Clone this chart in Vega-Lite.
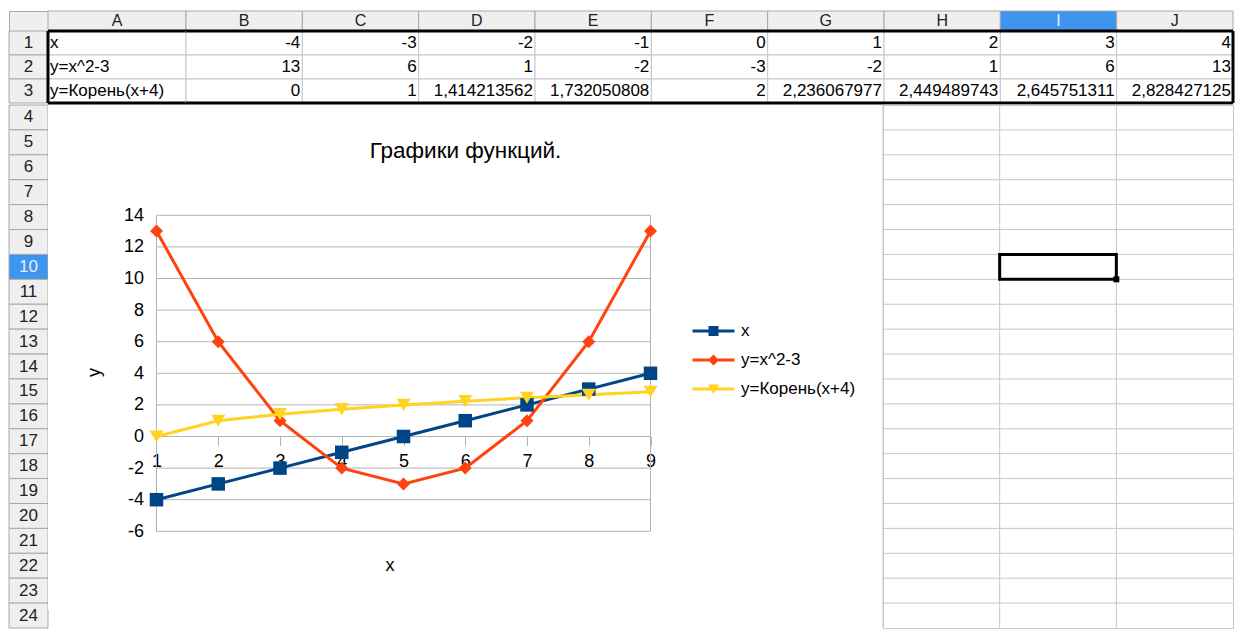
{
  "$schema": "https://vega.github.io/schema/vega-lite/v6.json",
  "padding": {"left": 8, "top": 10, "right": 0, "bottom": 0},
  "background": "white",
  "spacing": -3,
  "config": {
    "font": "Liberation Sans",
    "view": {"stroke": null},
    "text": {"font": "Liberation Sans"},
    "axis": {"labelFont": "Liberation Sans", "titleFont": "Liberation Sans"},
    "legend": {"labelFont": "Liberation Sans"},
    "title": {"font": "Liberation Sans"}
  },
  "vconcat": [
    {
      "columns": 3,
      "spacing": 0,
      "bounds": "flush",
      "concat": [
        {
          "width": 39, "height": 20,
          "view": {"fill": "#efefef", "stroke": "#a8a8a8"},
          "data": {"values": [{"k": ""}]},
          "mark": {"type": "text"},
          "encoding": {"text": {"field": "k"}}
        },
        {
          "width": 138, "height": 20,
          "data": {"values": [{"c": "A"}]},
          "encoding": {"x": {"field": "c", "type": "nominal", "axis": null, "scale": {"type": "band", "paddingInner": 0, "paddingOuter": 0}}},
          "layer": [
            {"mark": {"type": "rect", "fill": "#efefef", "stroke": "#a8a8a8"}},
            {"mark": {"type": "text", "fontSize": 16, "color": "#222"}, "encoding": {"text": {"field": "c"}}}
          ]
        },
        {
          "width": 1047, "height": 20,
          "data": {"values": [{"c": "B"}, {"c": "C"}, {"c": "D"}, {"c": "E"}, {"c": "F"}, {"c": "G"}, {"c": "H"}, {"c": "I"}, {"c": "J"}]},
          "encoding": {"x": {"field": "c", "type": "nominal", "axis": null, "scale": {"type": "band", "paddingInner": 0, "paddingOuter": 0}}},
          "layer": [
            {"mark": {"type": "rect", "stroke": "#a8a8a8"},
             "encoding": {"fill": {"condition": {"test": "datum.c === 'I'", "value": "#3d95f0"}, "value": "#efefef"}}},
            {"mark": {"type": "text", "fontSize": 16},
             "encoding": {"text": {"field": "c"}, "color": {"condition": {"test": "datum.c === 'I'", "value": "#e8f0fb"}, "value": "#222"}}}
          ]
        },
        {
          "width": 39, "height": 72,
          "data": {"values": [{"r": "1"}, {"r": "2"}, {"r": "3"}]},
          "encoding": {"y": {"field": "r", "type": "nominal", "axis": null, "scale": {"type": "band", "paddingInner": 0, "paddingOuter": 0}}},
          "layer": [
            {"mark": {"type": "rect", "fill": "#efefef", "stroke": "#a8a8a8"}},
            {"mark": {"type": "text", "fontSize": 17, "color": "#222"}, "encoding": {"text": {"field": "r"}}}
          ]
        },
        {
          "width": 138, "height": 72,
          "layer": [
            {
              "data": {"values": [{"c": "A", "r": "1", "t": "x"}, {"c": "A", "r": "2", "t": "y=x^2-3"}, {"c": "A", "r": "3", "t": "y=Корень(x+4)"}]},
              "encoding": {
                "x": {"field": "c", "type": "nominal", "axis": null, "scale": {"type": "band", "paddingInner": 0, "paddingOuter": 0}},
                "y": {"field": "r", "type": "nominal", "axis": null, "scale": {"type": "band", "paddingInner": 0, "paddingOuter": 0}}
              },
              "layer": [
                {"mark": {"type": "rect", "fill": "white", "stroke": "#c6c6c6"}},
                {"mark": {"type": "text", "fontSize": 17, "align": "left", "dx": 2, "color": "#000"},
                 "encoding": {"x": {"field": "c", "type": "nominal", "bandPosition": 0, "axis": null}, "text": {"field": "t"}}}
              ]
            },
            {
              "data": {"values": [{"k": 1}]},
              "layer": [
                {"mark": {"type": "rule", "color": "#000", "strokeWidth": 3}, "encoding": {"y": {"datum": "1", "type": "nominal", "bandPosition": 0, "axis": null}}},
                {"mark": {"type": "rule", "color": "#000", "strokeWidth": 3}, "encoding": {"y": {"datum": "3", "type": "nominal", "bandPosition": 1, "axis": null}}},
                {"mark": {"type": "rule", "color": "#000", "strokeWidth": 3}, "encoding": {"x": {"datum": "A", "type": "nominal", "bandPosition": 0, "axis": null}}}
              ]
            }
          ]
        },
        {
          "width": 1047, "height": 72,
          "layer": [
            {
              "data": {"values": [
                {"c": "B", "r": "1", "v": "-4"}, {"c": "C", "r": "1", "v": "-3"}, {"c": "D", "r": "1", "v": "-2"}, {"c": "E", "r": "1", "v": "-1"}, {"c": "F", "r": "1", "v": "0"}, {"c": "G", "r": "1", "v": "1"}, {"c": "H", "r": "1", "v": "2"}, {"c": "I", "r": "1", "v": "3"}, {"c": "J", "r": "1", "v": "4"},
                {"c": "B", "r": "2", "v": "13"}, {"c": "C", "r": "2", "v": "6"}, {"c": "D", "r": "2", "v": "1"}, {"c": "E", "r": "2", "v": "-2"}, {"c": "F", "r": "2", "v": "-3"}, {"c": "G", "r": "2", "v": "-2"}, {"c": "H", "r": "2", "v": "1"}, {"c": "I", "r": "2", "v": "6"}, {"c": "J", "r": "2", "v": "13"},
                {"c": "B", "r": "3", "v": "0"}, {"c": "C", "r": "3", "v": "1"}, {"c": "D", "r": "3", "v": "1,414213562"}, {"c": "E", "r": "3", "v": "1,732050808"}, {"c": "F", "r": "3", "v": "2"}, {"c": "G", "r": "3", "v": "2,236067977"}, {"c": "H", "r": "3", "v": "2,449489743"}, {"c": "I", "r": "3", "v": "2,645751311"}, {"c": "J", "r": "3", "v": "2,828427125"}
              ]},
              "encoding": {
                "x": {"field": "c", "type": "nominal", "axis": null, "scale": {"type": "band", "paddingInner": 0, "paddingOuter": 0}},
                "y": {"field": "r", "type": "nominal", "axis": null, "scale": {"type": "band", "paddingInner": 0, "paddingOuter": 0}}
              },
              "layer": [
                {"mark": {"type": "rect", "fill": "white", "stroke": "#c6c6c6"}},
                {"mark": {"type": "text", "fontSize": 17, "align": "right", "dx": -2, "color": "#000"},
                 "encoding": {"x": {"field": "c", "type": "nominal", "bandPosition": 1, "axis": null}, "text": {"field": "v"}}}
              ]
            },
            {
              "data": {"values": [{"k": 1}]},
              "layer": [
                {"mark": {"type": "rule", "color": "#000", "strokeWidth": 3}, "encoding": {"y": {"datum": "1", "type": "nominal", "bandPosition": 0, "axis": null}}},
                {"mark": {"type": "rule", "color": "#000", "strokeWidth": 3}, "encoding": {"y": {"datum": "3", "type": "nominal", "bandPosition": 1, "axis": null}}},
                {"mark": {"type": "rule", "color": "#000", "strokeWidth": 3}, "encoding": {"x": {"datum": "J", "type": "nominal", "bandPosition": 1, "axis": null}}}
              ]
            }
          ]
        }
      ]
    },
    {
      "spacing": 0,
      "bounds": "flush",
      "hconcat": [
        {
          "width": 39, "height": 523,
          "data": {"values": [{"r": 4}, {"r": 5}, {"r": 6}, {"r": 7}, {"r": 8}, {"r": 9}, {"r": 10}, {"r": 11}, {"r": 12}, {"r": 13}, {"r": 14}, {"r": 15}, {"r": 16}, {"r": 17}, {"r": 18}, {"r": 19}, {"r": 20}, {"r": 21}, {"r": 22}, {"r": 23}, {"r": 24}]},
          "encoding": {"y": {"field": "r", "type": "ordinal", "axis": null, "scale": {"type": "band", "paddingInner": 0, "paddingOuter": 0}}},
          "layer": [
            {"mark": {"type": "rect", "stroke": "#a8a8a8"},
             "encoding": {"fill": {"condition": {"test": "datum.r === 10", "value": "#3d95f0"}, "value": "#efefef"}}},
            {"mark": {"type": "text", "fontSize": 17},
             "encoding": {"text": {"field": "r"}, "color": {"condition": {"test": "datum.r === 10", "value": "#e8f0fb"}, "value": "#222"}}}
          ]
        },
        {
          "width": 835, "height": 505,
          "view": {"fill": "white", "stroke": null},
          "title": {"text": "Графики функций.", "fontSize": 22.5, "fontWeight": "normal", "color": "#000", "anchor": "middle", "frame": "group", "offset": -68, "baseline": "middle"},
          "layer": [
            {
              "data": {"values": [{"g": -6}, {"g": -4}, {"g": -2}, {"g": 0}, {"g": 2}, {"g": 4}, {"g": 6}, {"g": 8}, {"g": 10}, {"g": 12}, {"g": 14}]},
              "mark": {"type": "rule", "color": "#b3b3b3", "strokeWidth": 1},
              "encoding": {
                "x": {"datum": 1, "type": "quantitative", "scale": {"domain": [-0.757, 12.765], "nice": false, "zero": false},
                  "axis": {"orient": "bottom", "offset": -173.5, "values": [1, 2, 3, 4, 5, 6, 7, 8, 9], "domain": false, "grid": false, "ticks": true, "tickSize": 9, "tickColor": "#b3b3b3", "tickWidth": 1, "labelFontSize": 18, "labelColor": "#000", "labelPadding": 7, "labelFlush": false, "title": "x", "titleFontSize": 18, "titleFontWeight": "normal", "titleColor": "#000", "titleX": 341.5, "titlePadding": 86}},
                "x2": {"datum": 9},
                "y": {"field": "g", "type": "quantitative", "scale": {"domain": [-10.981, 20.981], "nice": false, "zero": false},
                  "axis": {"orient": "left", "offset": -108.5, "values": [-6, -4, -2, 0, 2, 4, 6, 8, 10, 12, 14], "labelExpr": "'' + datum.value", "domain": false, "grid": false, "ticks": false, "labelFontSize": 18, "labelColor": "#000", "labelPadding": 13, "title": "y", "titleFontSize": 18, "titleFontWeight": "normal", "titleColor": "#000", "titlePadding": 20, "titleY": 267}}
              }
            },
            {
              "data": {"values": [{"v": 1}, {"v": 9}]},
              "mark": {"type": "rule", "color": "#b3b3b3", "strokeWidth": 1},
              "encoding": {
                "x": {"field": "v", "type": "quantitative", "scale": {"domain": [-0.757, 12.765], "nice": false, "zero": false},
                  "axis": {"orient": "bottom", "offset": -173.5, "values": [1, 2, 3, 4, 5, 6, 7, 8, 9], "domain": false, "grid": false, "ticks": true, "tickSize": 9, "tickColor": "#b3b3b3", "tickWidth": 1, "labelFontSize": 18, "labelColor": "#000", "labelPadding": 7, "labelFlush": false, "title": "x", "titleFontSize": 18, "titleFontWeight": "normal", "titleColor": "#000", "titleX": 341.5, "titlePadding": 86}},
                "y": {"datum": -6, "type": "quantitative", "scale": {"domain": [-10.981, 20.981], "nice": false, "zero": false},
                  "axis": {"orient": "left", "offset": -108.5, "values": [-6, -4, -2, 0, 2, 4, 6, 8, 10, 12, 14], "labelExpr": "'' + datum.value", "domain": false, "grid": false, "ticks": false, "labelFontSize": 18, "labelColor": "#000", "labelPadding": 13, "title": "y", "titleFontSize": 18, "titleFontWeight": "normal", "titleColor": "#000", "titlePadding": 20, "titleY": 267}},
                "y2": {"datum": 14}
              }
            },
            {
              "data": {"name": "series"},
              "mark": {"type": "line", "strokeWidth": 3},
              "encoding": {
                "x": {"field": "idx", "type": "quantitative", "scale": {"domain": [-0.757, 12.765], "nice": false, "zero": false},
                  "axis": {"orient": "bottom", "offset": -173.5, "values": [1, 2, 3, 4, 5, 6, 7, 8, 9], "domain": false, "grid": false, "ticks": true, "tickSize": 9, "tickColor": "#b3b3b3", "tickWidth": 1, "labelFontSize": 18, "labelColor": "#000", "labelPadding": 7, "labelFlush": false, "title": "x", "titleFontSize": 18, "titleFontWeight": "normal", "titleColor": "#000", "titleX": 341.5, "titlePadding": 86}},
                "y": {"field": "val", "type": "quantitative", "scale": {"domain": [-10.981, 20.981], "nice": false, "zero": false},
                  "axis": {"orient": "left", "offset": -108.5, "values": [-6, -4, -2, 0, 2, 4, 6, 8, 10, 12, 14], "labelExpr": "'' + datum.value", "domain": false, "grid": false, "ticks": false, "labelFontSize": 18, "labelColor": "#000", "labelPadding": 13, "title": "y", "titleFontSize": 18, "titleFontWeight": "normal", "titleColor": "#000", "titlePadding": 20, "titleY": 267}},
                "color": {"field": "s", "type": "nominal",
                  "scale": {"domain": ["x", "y=x^2-3", "y=Корень(x+4)"], "range": ["#004586", "#ff420e", "#ffd320"]},
                  "legend": {"title": null, "orient": "none", "legendX": 696, "legendY": 311.5, "padding": 0, "labelFontSize": 17, "labelColor": "#000", "symbolSize": 100, "labelOffset": 19, "rowPadding": 11, "symbolStrokeWidth": 0, "symbolOpacity": 1,
                    "symbolType": {"expr": "datum.value === 'x' ? 'M-4.2,-0.3H4.2V0.3H-4.2Z M-1,-1H1V1H-1Z' : datum.value === 'y=x^2-3' ? 'M-4.2,-0.3H4.2V0.3H-4.2Z M-1.1,0L0,-1.1L1.1,0L0,1.1Z' : 'M-4.2,-0.3H4.2V0.3H-4.2Z M-1.1,-0.9H1.1L0,1Z'"}}}
              }
            },
            {
              "data": {"name": "series"},
              "mark": {"type": "point", "filled": true, "opacity": 1},
              "encoding": {
                "x": {"field": "idx", "type": "quantitative", "scale": {"domain": [-0.757, 12.765], "nice": false, "zero": false},
                  "axis": {"orient": "bottom", "offset": -173.5, "values": [1, 2, 3, 4, 5, 6, 7, 8, 9], "domain": false, "grid": false, "ticks": true, "tickSize": 9, "tickColor": "#b3b3b3", "tickWidth": 1, "labelFontSize": 18, "labelColor": "#000", "labelPadding": 7, "labelFlush": false, "title": "x", "titleFontSize": 18, "titleFontWeight": "normal", "titleColor": "#000", "titleX": 341.5, "titlePadding": 86}},
                "y": {"field": "val", "type": "quantitative", "scale": {"domain": [-10.981, 20.981], "nice": false, "zero": false},
                  "axis": {"orient": "left", "offset": -108.5, "values": [-6, -4, -2, 0, 2, 4, 6, 8, 10, 12, 14], "labelExpr": "'' + datum.value", "domain": false, "grid": false, "ticks": false, "labelFontSize": 18, "labelColor": "#000", "labelPadding": 13, "title": "y", "titleFontSize": 18, "titleFontWeight": "normal", "titleColor": "#000", "titlePadding": 20, "titleY": 267}},
                "color": {"field": "s", "type": "nominal",
                  "scale": {"domain": ["x", "y=x^2-3", "y=Корень(x+4)"], "range": ["#004586", "#ff420e", "#ffd320"]},
                  "legend": {"title": null, "orient": "none", "legendX": 696, "legendY": 311.5, "padding": 0, "labelFontSize": 17, "labelColor": "#000", "symbolSize": 100, "labelOffset": 19, "rowPadding": 11, "symbolStrokeWidth": 0, "symbolOpacity": 1,
                    "symbolType": {"expr": "datum.value === 'x' ? 'M-4.2,-0.3H4.2V0.3H-4.2Z M-1,-1H1V1H-1Z' : datum.value === 'y=x^2-3' ? 'M-4.2,-0.3H4.2V0.3H-4.2Z M-1.1,0L0,-1.1L1.1,0L0,1.1Z' : 'M-4.2,-0.3H4.2V0.3H-4.2Z M-1.1,-0.9H1.1L0,1Z'"}}},
                "shape": {"field": "s", "type": "nominal", "legend": null,
                  "scale": {"domain": ["y=Корень(x+4)", "y=x^2-3", "x"], "range": ["triangle-down", "diamond", "square"]}},
                "size": {"field": "s", "type": "nominal", "legend": null,
                  "scale": {"domain": ["y=x^2-3", "x", "y=Корень(x+4)"], "range": [169, 196, 196]}}
              }
            }
          ]
        },
        {
          "width": 350, "height": 523,
          "view": {"fill": "white", "stroke": "#c6c6c6"},
          "layer": [
            {
              "data": {"values": [{"r": 4}, {"r": 5}, {"r": 6}, {"r": 7}, {"r": 8}, {"r": 9}, {"r": 10}, {"r": 11}, {"r": 12}, {"r": 13}, {"r": 14}, {"r": 15}, {"r": 16}, {"r": 17}, {"r": 18}, {"r": 19}, {"r": 20}, {"r": 21}, {"r": 22}, {"r": 23}, {"r": 24}]},
              "mark": {"type": "rule", "color": "#c6c6c6", "strokeWidth": 1},
              "encoding": {"y": {"field": "r", "type": "ordinal", "bandPosition": 0, "axis": null, "scale": {"type": "band", "paddingInner": 0, "paddingOuter": 0}}}
            },
            {
              "data": {"values": [{"c": "H"}, {"c": "I"}, {"c": "J"}]},
              "mark": {"type": "rule", "color": "#c6c6c6", "strokeWidth": 1},
              "encoding": {"x": {"field": "c", "type": "nominal", "bandPosition": 0, "axis": null, "scale": {"type": "band", "paddingInner": 0, "paddingOuter": 0}}}
            },
            {
              "data": {"values": [{"c": "I", "r": 10}]},
              "layer": [
                {"mark": {"type": "rect", "fill": null, "stroke": "#000", "strokeWidth": 3},
                 "encoding": {
                   "x": {"field": "c", "type": "nominal", "axis": null},
                   "y": {"field": "r", "type": "ordinal", "axis": null}
                 }},
                {"mark": {"type": "point", "shape": "square", "filled": true, "color": "#000", "opacity": 1, "size": 36},
                 "encoding": {
                   "x": {"field": "c", "type": "nominal", "bandPosition": 1, "axis": null},
                   "y": {"field": "r", "type": "ordinal", "bandPosition": 1, "axis": null}
                 }}
              ]
            }
          ]
        }
      ]
    }
  ],
  "datasets": {
    "series": [
      {"idx": 1, "s": "x", "val": -4}, {"idx": 2, "s": "x", "val": -3}, {"idx": 3, "s": "x", "val": -2}, {"idx": 4, "s": "x", "val": -1}, {"idx": 5, "s": "x", "val": 0}, {"idx": 6, "s": "x", "val": 1}, {"idx": 7, "s": "x", "val": 2}, {"idx": 8, "s": "x", "val": 3}, {"idx": 9, "s": "x", "val": 4},
      {"idx": 1, "s": "y=x^2-3", "val": 13}, {"idx": 2, "s": "y=x^2-3", "val": 6}, {"idx": 3, "s": "y=x^2-3", "val": 1}, {"idx": 4, "s": "y=x^2-3", "val": -2}, {"idx": 5, "s": "y=x^2-3", "val": -3}, {"idx": 6, "s": "y=x^2-3", "val": -2}, {"idx": 7, "s": "y=x^2-3", "val": 1}, {"idx": 8, "s": "y=x^2-3", "val": 6}, {"idx": 9, "s": "y=x^2-3", "val": 13},
      {"idx": 1, "s": "y=Корень(x+4)", "val": 0}, {"idx": 2, "s": "y=Корень(x+4)", "val": 1}, {"idx": 3, "s": "y=Корень(x+4)", "val": 1.414213562}, {"idx": 4, "s": "y=Корень(x+4)", "val": 1.732050808}, {"idx": 5, "s": "y=Корень(x+4)", "val": 2}, {"idx": 6, "s": "y=Корень(x+4)", "val": 2.236067977}, {"idx": 7, "s": "y=Корень(x+4)", "val": 2.449489743}, {"idx": 8, "s": "y=Корень(x+4)", "val": 2.645751311}, {"idx": 9, "s": "y=Корень(x+4)", "val": 2.828427125}
    ]
  }
}
